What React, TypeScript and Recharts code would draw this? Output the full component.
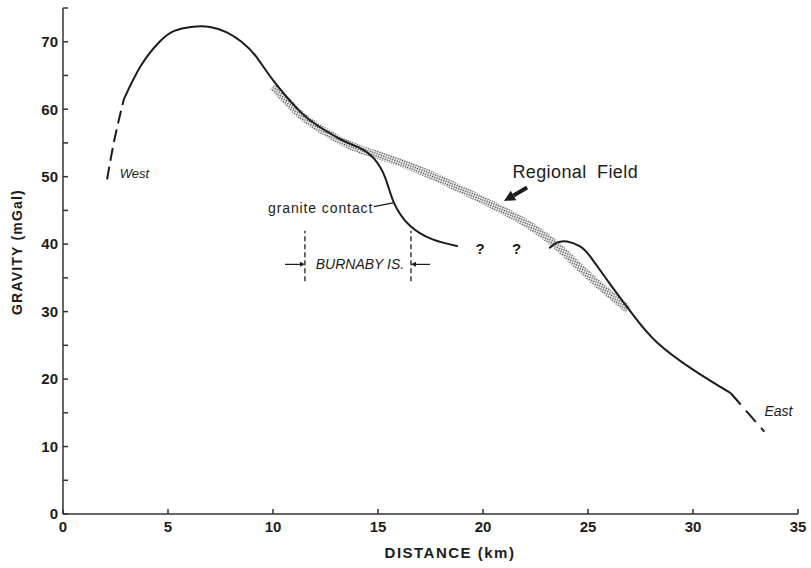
import React from 'react';
import { LineChart, Line, XAxis, YAxis, ReferenceLine, ReferenceDot } from 'recharts';

const distanceTicks = [0, 5, 10, 15, 20, 25, 30, 35];
const gravityTicks = [0, 5, 10, 15, 20, 25, 30, 35, 40, 45, 50, 55, 60, 65, 70, 75];

// gravity profile: d = distance (km), g = gravity (mGal)
const westDashed = [
  { d: 2.1, g: 49.6 },
  { d: 2.45, g: 55.5 },
  { d: 2.9, g: 61.5 },
];
const westProfile = [
  { d: 2.9, g: 61.5 },
  { d: 3.7, g: 66.4 },
  { d: 4.6, g: 70.0 },
  { d: 5.3, g: 71.6 },
  { d: 6.1, g: 72.2 },
  { d: 7.0, g: 72.2 },
  { d: 7.8, g: 71.4 },
  { d: 8.5, g: 70.0 },
  { d: 9.2, g: 67.8 },
  { d: 10.0, g: 64.3 },
  { d: 11.3, g: 59.6 },
  { d: 12.2, g: 57.4 },
  { d: 13.3, g: 55.4 },
  { d: 14.1, g: 54.3 },
  { d: 14.8, g: 52.7 },
  { d: 15.35, g: 49.8 },
  { d: 15.75, g: 46.2 },
  { d: 16.5, g: 42.8 },
  { d: 17.6, g: 40.7 },
  { d: 18.8, g: 39.7 },
];
const eastProfile = [
  { d: 23.15, g: 39.4 },
  { d: 23.5, g: 40.2 },
  { d: 24.0, g: 40.4 },
  { d: 24.6, g: 39.7 },
  { d: 25.1, g: 38.2 },
  { d: 26.0, g: 34.3 },
  { d: 27.2, g: 29.3 },
  { d: 28.3, g: 25.4 },
  { d: 30.0, g: 21.4 },
  { d: 31.8, g: 17.9 },
];
const eastDashed = [
  { d: 31.8, g: 17.9 },
  { d: 33.4, g: 12.2 },
];
const regionalField = [
  { d: 10.0, g: 63.4 },
  { d: 11.3, g: 59.2 },
  { d: 12.3, g: 57.0 },
  { d: 13.3, g: 55.2 },
  { d: 14.2, g: 54.0 },
  { d: 15.2, g: 53.0 },
  { d: 16.8, g: 51.2 },
  { d: 18.5, g: 48.8 },
  { d: 20.0, g: 46.5 },
  { d: 21.5, g: 44.1 },
  { d: 23.2, g: 40.6 },
  { d: 24.8, g: 36.0 },
  { d: 26.4, g: 31.6 },
  { d: 26.9, g: 30.3 },
];

// Burnaby Island extent (km) and the span of its marker lines (mGal)
const burnabyEdges = [11.52, 16.57];
const burnabySpan = [34.5, 42.0];

const FONT = '"Liberation Sans", Arial, Helvetica, sans-serif';
const INK = '#1c1c1c';

const note =
  (text: string, style: React.CSSProperties, anchor: 'start' | 'middle' | 'end' = 'start') =>
  ({ viewBox }: any) =>
    (
      <text
        x={viewBox.x}
        y={viewBox.y}
        textAnchor={anchor}
        dominantBaseline="central"
        style={{ fontFamily: FONT, fill: INK, ...style }}
      >
        {text}
      </text>
    );

const arrow =
  (head: number, width: number, shaft: number) =>
  ({ x1, y1, x2, y2 }: any) => {
    const a = Math.atan2(y2 - y1, x2 - x1);
    const bx = x2 - head * Math.cos(a);
    const by = y2 - head * Math.sin(a);
    const px = (width / 2) * Math.sin(a);
    const py = (width / 2) * -Math.cos(a);
    return (
      <g>
        <line x1={x1} y1={y1} x2={bx} y2={by} stroke={INK} strokeWidth={shaft} />
        <polygon points={`${x2},${y2} ${bx + px},${by + py} ${bx - px},${by - py}`} fill={INK} />
      </g>
    );
  };

const yTitle = () => (
  <text
    x={17}
    y={252}
    transform="rotate(-90 17 252)"
    textAnchor="middle"
    dominantBaseline="central"
    style={{ fontFamily: FONT, fontWeight: 700, fontSize: 14, letterSpacing: 1.2, fill: INK }}
  >
    GRAVITY (mGal)
  </text>
);

const xTitle = () => (
  <text
    x={450}
    y={552}
    textAnchor="middle"
    dominantBaseline="central"
    style={{ fontFamily: FONT, fontWeight: 700, fontSize: 15, letterSpacing: 1.5, fill: INK }}
  >
    DISTANCE (km)
  </text>
);

const tickStyle = { fontFamily: FONT, fontWeight: 700, fontSize: 15, fill: INK };

export default function App() {
  return (
    <div style={{ position: 'absolute', left: 0, top: 0, background: '#fff' }}>
      <LineChart width={811} height={568} margin={{ top: 8, right: 13, bottom: 24, left: 0 }}>
        <defs>
          <pattern id="stipple" width="2.4" height="2.4" patternUnits="userSpaceOnUse" patternTransform="rotate(20)">
            <circle cx="1.2" cy="1.2" r="0.8" fill="#3a3a3a" />
          </pattern>
        </defs>
        <XAxis
          dataKey="d"
          type="number"
          domain={[0, 35]}
          ticks={distanceTicks}
          height={30}
          tickSize={-5}
          tickMargin={12}
          tick={tickStyle}
          stroke="#333"
          strokeWidth={1.5}
          label={{ content: xTitle }}
        />
        <YAxis
          type="number"
          domain={[0, 75]}
          ticks={gravityTicks}
          width={63}
          tickSize={-5}
          tickMargin={10}
          tick={tickStyle}
          tickFormatter={(v: number) => (v % 10 === 0 ? String(v) : '')}
          stroke="#333"
          strokeWidth={1.5}
          label={{ content: yTitle }}
        />

        <Line
          data={regionalField}
          dataKey="g"
          type="natural"
          stroke="url(#stipple)"
          strokeWidth={8}
          dot={false}
          isAnimationActive={false}
        />
        <Line data={westDashed} dataKey="g" type="natural" stroke={INK} strokeWidth={2} strokeDasharray="13 6" dot={false} isAnimationActive={false} />
        <Line data={westProfile} dataKey="g" type="natural" stroke={INK} strokeWidth={2} dot={false} isAnimationActive={false} />
        <Line data={eastProfile} dataKey="g" type="natural" stroke={INK} strokeWidth={2} dot={false} isAnimationActive={false} />
        <Line data={eastDashed} dataKey="g" type="linear" stroke={INK} strokeWidth={2} strokeDasharray="15 8" dot={false} isAnimationActive={false} />

        {/* Burnaby Island markers */}
        {burnabyEdges.map((e) => (
          <ReferenceLine
            key={e}
            segment={[{ x: e, y: burnabySpan[0] }, { x: e, y: burnabySpan[1] }]}
            stroke={INK}
            strokeWidth={1.3}
            strokeDasharray="5 3"
          />
        ))}
        <ReferenceLine segment={[{ x: 10.57, y: 37.0 }, { x: burnabyEdges[0], y: 37.0 }]} shape={arrow(5, 5, 1.2)} />
        <ReferenceLine segment={[{ x: 17.48, y: 37.0 }, { x: burnabyEdges[1], y: 37.0 }]} shape={arrow(5, 5, 1.2)} />
        <ReferenceDot x={14.14} y={37.0} r={0} label={{ content: note('BURNABY IS.', { fontSize: 14, fontStyle: 'italic' }, 'middle') }} />

        {/* granite contact leader */}
        <ReferenceLine segment={[{ x: 14.8, y: 45.55 }, { x: 15.72, y: 46.1 }]} stroke={INK} strokeWidth={1.3} />
        <ReferenceDot x={9.76} y={45.3} r={0} label={{ content: note('granite contact', { fontSize: 14, letterSpacing: 0.9 }) }} />

        {/* Regional field */}
        <ReferenceLine segment={[{ x: 22.1, y: 48.4 }, { x: 21.0, y: 46.4 }]} shape={arrow(11, 11, 4)} />
        <ReferenceDot x={21.4} y={50.7} r={0} label={{ content: note('Regional Field', { fontSize: 18, letterSpacing: 0.4, wordSpacing: 5 }) }} />

        <ReferenceDot x={19.86} y={39.3} r={0} label={{ content: note('?', { fontSize: 15, fontWeight: 700 }, 'middle') }} />
        <ReferenceDot x={21.6} y={39.3} r={0} label={{ content: note('?', { fontSize: 15, fontWeight: 700 }, 'middle') }} />

        <ReferenceDot x={2.7} y={50.5} r={0} label={{ content: note('West', { fontSize: 13, fontStyle: 'italic' }) }} />
        <ReferenceDot x={33.4} y={15.2} r={0} label={{ content: note('East', { fontSize: 14, fontStyle: 'italic' }) }} />
      </LineChart>
    </div>
  );
}
